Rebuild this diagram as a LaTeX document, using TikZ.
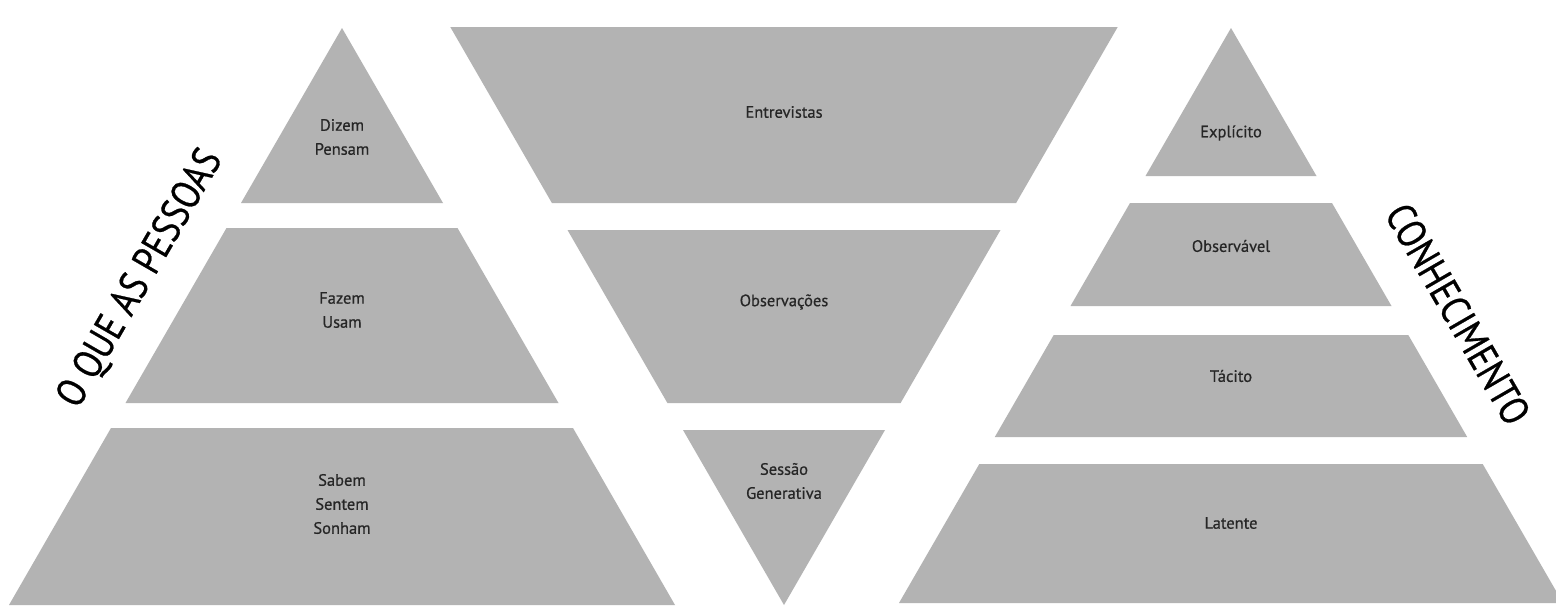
\documentclass[tikz,border=0pt]{standalone}
\usepackage{fontspec}
\setmainfont{PT Sans}
\newfontfamily\lblfont[FakeBold=0.6]{PT Sans}
\newfontfamily\titlefont[FakeStretch=0.84,FakeBold=0.6]{PT Sans}
\definecolor{bandgray}{HTML}{B3B3B3}
\definecolor{lblgray}{HTML}{262626}
\tikzset{
  band/.style={fill=bandgray},
  lbl/.style={align=center, text=lblgray, font=\lblfont\fontsize{16.5}{24}\selectfont},
  side/.style={text=black, inner sep=0pt, font=\titlefont\fontsize{41}{44}\selectfont}
}
\begin{document}
\begin{tikzpicture}[x=1pt,y=-1pt]
  \useasboundingbox[fill=white] (0,0) rectangle (1556,606);
  % o que as pessoas
  \fill[band] (342,28) -- (443,203) -- (241,203) -- cycle;
  \fill[band] (226.5,228) -- (457.5,228) -- (558.5,403) -- (125.5,403) -- cycle;
  \fill[band] (111,428) -- (573,428) -- (675,605) -- (9,605) -- cycle;
  % metodos
  \fill[band] (450.3,27) -- (1117.7,27) -- (1016.1,203) -- (551.9,203) -- cycle;
  \fill[band] (567.5,230) -- (1000.5,230) -- (900.6,403) -- (667.4,403) -- cycle;
  \fill[band] (683,430) -- (885,430) -- (784,605) -- cycle;
  % conhecimento
  \fill[band] (1231,28) -- (1316.5,176) -- (1145.5,176) -- cycle;
  \fill[band] (1130,203) -- (1332,203) -- (1391.5,306) -- (1070.5,306) -- cycle;
  \fill[band] (1053.7,335) -- (1408.3,335) -- (1467.2,437) -- (994.8,437) -- cycle;
  \fill[band] (979.3,464) -- (1482.7,464) -- (1563,603) -- (899,603) -- cycle;

  \node[lbl] (dizem) at (342,137) {Dizem\\Pensam};
  \node[lbl] (fazem) at (342,310) {Fazem\\Usam};
  \node[lbl] (sabem) at (342,504) {Sabem\\Sentem\\Sonham};
  \node[lbl] (entrevistas) at (784,112) {Entrevistas};
  \node[lbl] (observacoes) at (784,302) {Observações};
  \node[lbl] (sessao) at (784,481) {Sessão\\Generativa};
  \node[lbl] (explicito) at (1231,133) {Explícito};
  \node[lbl] (observavel) at (1231,246) {Observável};
  \node[lbl] (tacito) at (1231,376) {Tácito};
  \node[lbl] (latente) at (1231,523) {Latente};

  \node[side, rotate=60] (pessoas) at (141,279) {O QUE AS PESSOAS};
  \node[side, rotate=-60] (conhecimento) at (1458,314) {CONHECIMENTO};
\end{tikzpicture}
\end{document}
